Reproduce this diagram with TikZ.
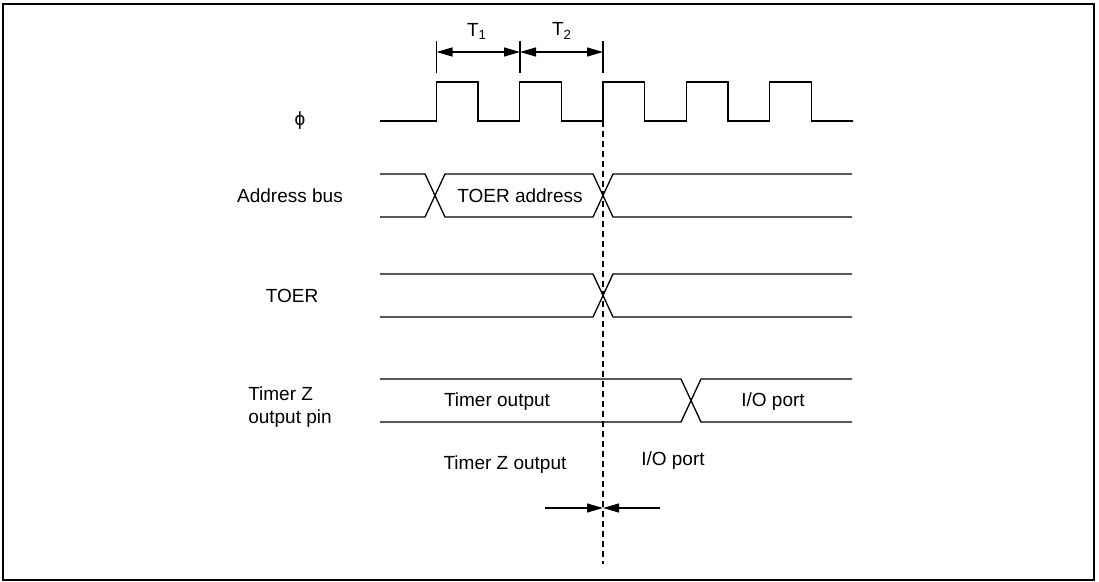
\documentclass[tikz,border=0pt]{standalone}
\usepackage{fontspec}
\setmainfont{Liberation Sans}
\usetikzlibrary{arrows.meta,positioning,calc}

\begin{document}
\begin{tikzpicture}[
  x=0.5pt, y=-0.5pt,
  sig/.style={line width=0.65pt, black},
  lbl/.style={font=\fontsize{9.5}{11.5}\selectfont, inner sep=0pt, align=left},
  dim/.style={{Triangle[length=8pt,width=4.5pt]}-{Triangle[length=8pt,width=4.5pt]}, line width=0.6pt},
  pointer/.style={-{Triangle[length=8pt,width=4.5pt]}, line width=0.6pt},
  tickline/.style={line width=0.6pt},
  guide/.style={line width=0.6pt, dash pattern=on 3pt off 2pt}
]
  \useasboundingbox (0,0) rectangle (1099,582);
  \draw[line width=1pt] (3,4) rectangle (1094,580);

  % signal names
  \node[lbl] (phi) at (300,121) {ϕ};
  \node[lbl] (addr) at (290,196) {Address bus};
  \node[lbl] (toer) at (292,296) {TOER};
  \node[lbl] (tmz) at (290,407) {Timer Z\\output pin};

  % clock
  \draw[sig] (380,121) -- (436.5,121)
    \foreach \i in {0,...,4} {
      -- ++(0,-39) -- ++(41.5,0) -- ++(0,39) -- ++(41.8,0)
    } -- (852,121);

  % T1 / T2
  \coordinate (t1a) at (436.5,52);
  \coordinate (t1b) at (520,52);
  \coordinate (t2b) at (603,52);
  \foreach \c in {t1a,t1b,t2b}
    \draw[tickline] ($(\c)+(0,-11)$) -- ($(\c)+(0,21)$);
  \draw[dim] (t1a) -- (t1b);
  \draw[dim] (t2b) -- (t1b);
  \node[lbl] (t1) at (477,31) {T\textsubscript{1}};
  \node[lbl] (t2) at (562,31) {T\textsubscript{2}};

  % address bus
  \draw[sig] (380,174) -- (425,174) -- (445,217) -- (593,217) -- (613,174) -- (852,174);
  \draw[sig] (380,217) -- (425,217) -- (445,174) -- (593,174) -- (613,217) -- (852,217);
  \node[lbl] (addrval) at (520,196) {TOER address};

  % TOER
  \draw[sig] (380,274) -- (593,274) -- (613,317) -- (852,317);
  \draw[sig] (380,317) -- (593,317) -- (613,274) -- (852,274);

  % timer Z output pin
  \draw[sig] (380,379) -- (681,379) -- (701,422) -- (852,422);
  \draw[sig] (380,422) -- (681,422) -- (701,379) -- (852,379);
  \node[lbl] (tmrout) at (497,402) {Timer output};
  \node[lbl] (ioport) at (773,402) {I/O port};

  % switch point
  \coordinate (gtop) at (603,121);
  \coordinate (gbot) at (603,564);
  \draw[guide] (gtop) -- (gbot);
  \node[lbl] (before) at (505,465) {Timer Z output};
  \node[lbl] (after) at (673,461) {I/O port};
  \coordinate (mark) at (603,508);
  \coordinate (markl) at (545,508);
  \coordinate (markr) at (660,508);
  \draw[pointer] (markl) -- (mark);
  \draw[pointer] (markr) -- (mark);
\end{tikzpicture}
\end{document}
